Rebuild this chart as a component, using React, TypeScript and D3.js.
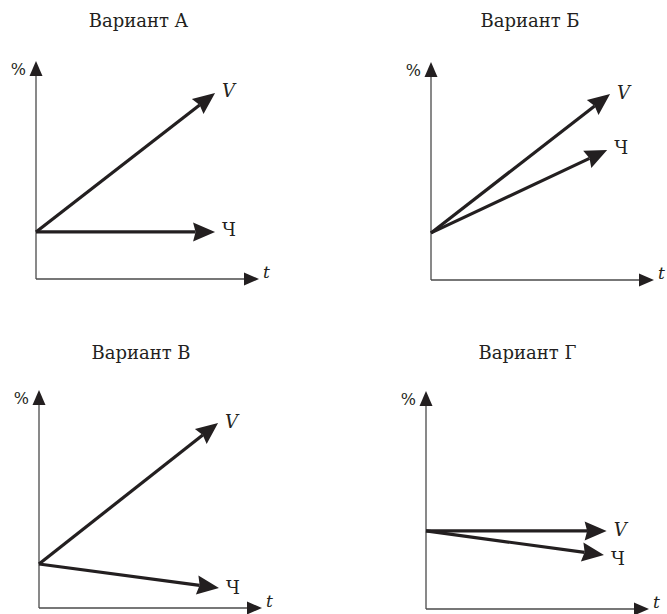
import React from "react";
import * as d3 from "d3";

// ---- data (axis units 0..10) ----
const variants = ["Вариант А", "Вариант Б", "Вариант В", "Вариант Г"];
const startValues = [2.16, 2.16, 2.02, 3.58]; // where both vectors start on the % axis
const vEndX = [8.03, 8.03, 8.03, 8.1];
const vEndY = [8.53, 8.53, 8.49, 3.58];
const chEndX = [8.03, 7.9, 8.07, 7.98];
const chEndY = [2.16, 5.96, 0.92, 2.48];
const seriesLabels = ["V", "Ч"];
const axisLabels = ["%", "t"];

const W = 667;
const H = 614;
const FONT = "'DejaVu Serif', serif";
const INK = "#231f20";
const AXIS = "#4a4a4a";

// panel layout: axis corner (pixels), title centre, label offsets
const corners: [number, number][] = [
  [36, 279],
  [431, 280],
  [39, 608],
  [426, 609],
];
const titleX = [138.5, 530, 141, 527.5];
const titleY = [27, 27, 359, 359];
const vLabelDy = [4, 5, 5, 5];
const chLabelDy = [4, 4, 6, 10];

function arrowHead(x1: number, y1: number, x2: number, y2: number, len: number, half: number, notch: number) {
  const dx = x2 - x1;
  const dy = y2 - y1;
  const L = Math.hypot(dx, dy);
  const ux = dx / L;
  const uy = dy / L;
  const px = -uy;
  const py = ux;
  const bx = x2 - ux * len;
  const by = y2 - uy * len;
  const nx = bx + ux * notch;
  const ny = by + uy * notch;
  const pts = [
    [x2, y2],
    [bx + px * half, by + py * half],
    [nx, ny],
    [bx - px * half, by - py * half],
  ];
  return { d: "M" + pts.map((p) => p.join(",")).join("L") + "Z", bx: nx, by: ny };
}

function Panel({ i }: { i: number }) {
  const [cx, cy] = corners[i];
  const x = d3.scaleLinear().domain([0, 10]).range([cx, cx + 223]);
  const y = d3.scaleLinear().domain([0, 10]).range([cy, cy - 218]);

  const xAxisHead = arrowHead(x(0), y(0), x(10), y(0), 15, 6.5, 0);
  const yAxisHead = arrowHead(x(0), y(0), x(0), y(10), 15, 6.5, 0);

  const ox = x(0);
  const oy = y(startValues[i]);
  const vectors = [
    { ex: x(vEndX[i]), ey: y(vEndY[i]), label: seriesLabels[0], italic: true, dy: vLabelDy[i] },
    { ex: x(chEndX[i]), ey: y(chEndY[i]), label: seriesLabels[1], italic: false, dy: chLabelDy[i] },
  ];

  return (
    <g>
      <text x={titleX[i]} y={titleY[i]} textAnchor="middle" fontFamily={FONT} fontSize={18} fill={INK}>
        {variants[i]}
      </text>
      {/* axes */}
      <line x1={x(0)} y1={y(0)} x2={xAxisHead.bx} y2={y(0)} stroke={AXIS} strokeWidth={1.3} />
      <path d={xAxisHead.d} fill={INK} />
      <line x1={x(0)} y1={y(0)} x2={x(0)} y2={yAxisHead.by} stroke={AXIS} strokeWidth={1.3} />
      <path d={yAxisHead.d} fill={INK} />
      <text x={x(0) - 10} y={y(10) + 14} textAnchor="end" fontFamily={FONT} fontSize={16} fill={INK}>
        {axisLabels[0]}
      </text>
      <text x={x(10) + 4} y={y(0) - 1} fontFamily={FONT} fontStyle="italic" fontSize={17} fill={INK}>
        {axisLabels[1]}
      </text>
      {/* vectors */}
      {vectors.map((v, k) => {
        const head = arrowHead(ox, oy, v.ex, v.ey, 22, 9.5, 2.5);
        return (
          <g key={k}>
            <line x1={ox} y1={oy} x2={head.bx} y2={head.by} stroke={INK} strokeWidth={3.2} />
            <path d={head.d} fill={INK} />
            <text
              x={v.ex + 7}
              y={v.ey + v.dy}
              fontFamily={FONT}
              fontStyle={v.italic ? "italic" : "normal"}
              fontSize={18}
              fill={INK}
            >
              {v.label}
            </text>
          </g>
        );
      })}
    </g>
  );
}

export default function App() {
  return (
    <svg width={W} height={H} viewBox={`0 0 ${W} ${H}`} style={{ display: "block", position: "absolute", left: 0, top: 0, background: "#fff" }}>
      <rect width={W} height={H} fill="#fff" />
      {variants.map((_, i) => (
        <Panel key={i} i={i} />
      ))}
    </svg>
  );
}
